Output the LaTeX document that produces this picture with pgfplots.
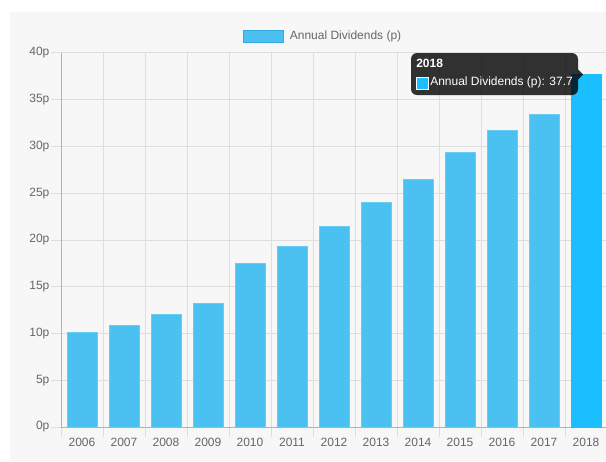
\documentclass[border=0pt]{standalone}
\usepackage{pgfplots}
\pgfplotsset{compat=1.18}
\usepackage{fontspec}
\setmainfont{Liberation Sans}
\definecolor{barc}{RGB}{74,193,240}
\definecolor{barb}{RGB}{105,204,245}
\definecolor{barhl}{RGB}{27,191,255}
\definecolor{legb}{RGB}{54,168,225}
\definecolor{bg}{RGB}{247,247,247}
\definecolor{gridc}{RGB}{222,222,222}
\definecolor{axc}{RGB}{178,178,178}
\definecolor{txt}{RGB}{102,102,102}
\begin{document}
\begin{tikzpicture}
\path[use as bounding box] (0,0) rectangle (454.5pt,345.75pt);
\fill[white] (0,0) rectangle (454.5pt,345.75pt);
\fill[bg] (7.5pt,0) rectangle (454.5pt,336.75pt);
\begin{axis}[
  at={(45.75pt,25.5pt)}, anchor=south west,
  scale only axis, width=409.5pt, height=280.5pt,
  xmin=-0.5, xmax=12.5, ymin=0, ymax=40,
  axis lines=left, axis line style={-, draw=axc, line width=0.75pt},
  xtick={0,...,12},
  xticklabels={2006,2007,2008,2009,2010,2011,2012,2013,2014,2015,2016,2017,2018},
  major x tick style={draw=none},
  minor xtick={-0.5,0.5,...,12.5},
  minor x tick style={draw=gridc, line width=0.75pt},
  xminorgrids=true, xmajorgrids=false,
  minor grid style={draw=gridc, line width=0.75pt},
  ytick={0,5,...,40},
  yticklabel={\pgfmathprintnumber{\tick}p},
  /pgf/number format/assume math mode=true,
  ymajorgrids=true,
  major grid style={draw=gridc, line width=0.75pt},
  y tick style={draw=gridc, line width=0.75pt},
  tick align=outside,
  major tick length=7.5pt, minor tick length=7.5pt,
  ticklabel style={font=\fontsize{9}{10}\selectfont, text=txt},
  xticklabel style={inner sep=1pt},
  yticklabel style={inner sep=1pt},
  ybar, bar width=22.5pt, bar shift=0pt,
  legend style={draw=none, fill=none, at={(0.481,1.045)}, anchor=center,
    font=\fontsize{9}{10}\selectfont, text=txt, inner sep=0pt},
  legend image code/.code={\path[draw=none, fill=none] (0pt,0pt) -- (32.5pt,0pt);\draw[fill=barc, draw=legb, line width=0.75pt] (0pt,-4.5pt) rectangle (30pt,4.5pt);},
]
\addplot[fill=barc, draw=barb, line width=0.75pt] coordinates {
 (0,10.1) (1,10.9) (2,12.0) (3,13.2) (4,17.5) (5,19.3)
 (6,21.4) (7,24.0) (8,26.5) (9,29.4) (10,31.7) (11,33.4)};
\addlegendentry{Annual Dividends (p)}
\addplot[fill=barhl, draw=barhl, line width=0.75pt, forget plot] coordinates {(12,37.7)};
\coordinate (p) at (axis cs:12,37.7);
\end{axis}
\begin{scope}[shift={(p)}]
  \fill[black, opacity=0.8, rounded corners=4.5pt] (-131.25pt,-15.4pt) rectangle (-6pt,16.1pt);
  \fill[black, opacity=0.8] (-6pt,3.75pt) -- (-2.25pt,0pt) -- (-6pt,-3.75pt) -- cycle;
  \node[anchor=west, inner sep=0pt, text=white, font=\fontsize{9}{10}\selectfont\bfseries] at (-127.5pt,8.25pt) {2018};
  \fill[barhl, draw=white, line width=0.75pt] (-127.5pt,-10.9pt) rectangle (-118.5pt,-1.9pt);
  \node[anchor=west, inner sep=0pt, text=white, font=\fontsize{9}{10}\selectfont] at (-117pt,-5.8pt) {Annual Dividends (p): 37.7};
\end{scope}
\end{tikzpicture}
\end{document}
